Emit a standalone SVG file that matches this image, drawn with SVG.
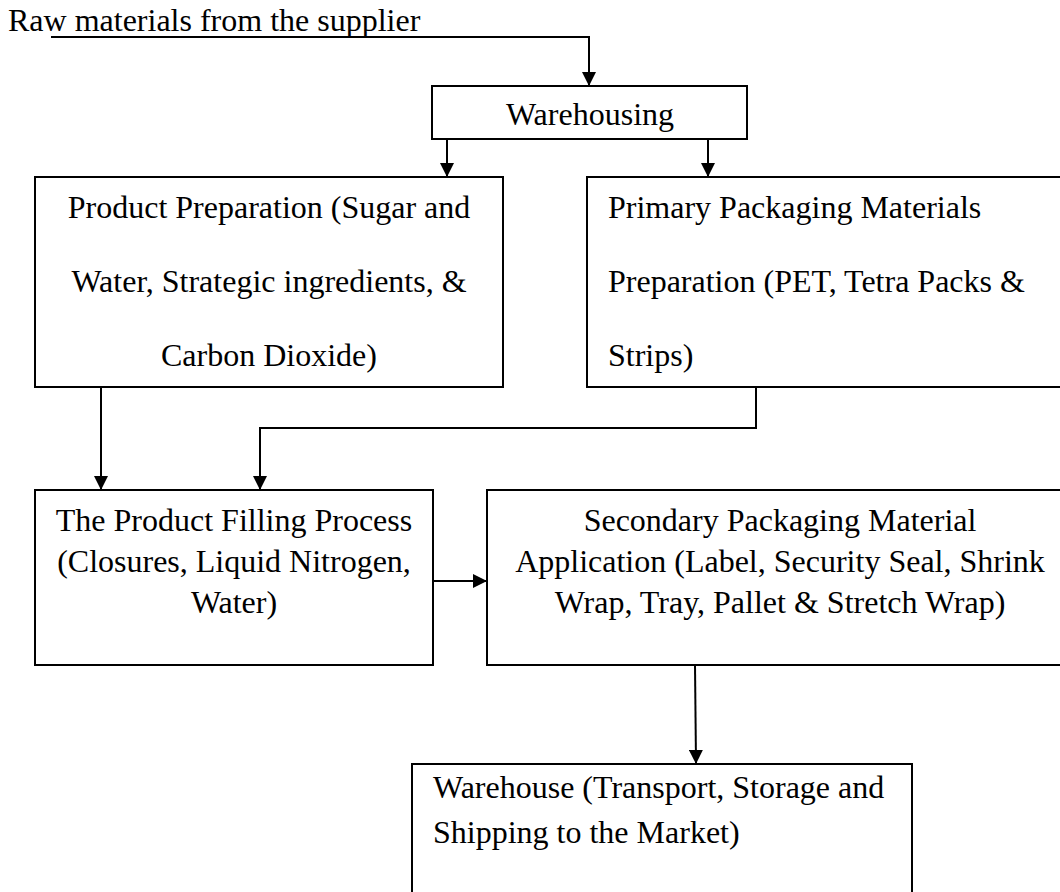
<svg xmlns="http://www.w3.org/2000/svg" width="1060" height="892" viewBox="0 0 1060 892">
<style>
.box{fill:#fff;stroke:#000;stroke-width:2}
.t{font-family:"Liberation Serif","Times New Roman",serif;font-size:32px;fill:#000}
.c{text-anchor:middle}
.ln{fill:none;stroke:#000;stroke-width:2}
</style>
<defs>
<marker id="ah" viewBox="0 0 14 14" markerWidth="14" markerHeight="14" refX="13" refY="7" orient="auto" markerUnits="userSpaceOnUse">
<path d="M0,0 L14,7 L0,14 z" fill="#000"/>
</marker>
</defs>
<rect width="1060" height="892" fill="#fff"/>
<g id="source">
<text class="t" x="8" y="31">Raw materials from the supplier</text>
</g>
<g id="connectors">
<path class="ln" d="M51,37 H589 V85" marker-end="url(#ah)"/>
<path class="ln" d="M447,139 V176" marker-end="url(#ah)"/>
<path class="ln" d="M708,139 V176" marker-end="url(#ah)"/>
<path class="ln" d="M101,387 V489" marker-end="url(#ah)"/>
<path class="ln" d="M756,387 V428 H260 V489" marker-end="url(#ah)"/>
<path class="ln" d="M433,581 H486" stroke-width="3" marker-end="url(#ah)"/>
<path class="ln" d="M695,665 L696,763" marker-end="url(#ah)"/>
</g>
<g id="warehousing">
<rect class="box" x="432" y="86" width="315" height="53"/>
<text class="t c" x="590" y="125">Warehousing</text>
</g>
<g id="product-preparation">
<rect class="box" x="35" y="177" width="468" height="210"/>
<text class="t c" x="269" y="218">Product Preparation (Sugar and</text>
<text class="t c" x="269" y="292">Water, Strategic ingredients, &amp;</text>
<text class="t c" x="269" y="366">Carbon Dioxide)</text>
</g>
<g id="primary-packaging">
<rect class="box" x="587" y="177" width="490" height="210"/>
<text class="t" x="608" y="218">Primary Packaging Materials</text>
<text class="t" x="608" y="292">Preparation (PET, Tetra Packs &amp;</text>
<text class="t" x="608" y="366">Strips)</text>
</g>
<g id="filling">
<rect class="box" x="35" y="490" width="398" height="175"/>
<text class="t c" x="234" y="531">The Product Filling Process</text>
<text class="t c" x="234" y="572">(Closures, Liquid Nitrogen,</text>
<text class="t c" x="234" y="613">Water)</text>
</g>
<g id="secondary-packaging">
<rect class="box" x="487" y="490" width="586" height="175"/>
<text class="t c" x="780" y="531">Secondary Packaging Material</text>
<text class="t c" x="780" y="572">Application (Label, Security Seal, Shrink</text>
<text class="t c" x="780" y="613">Wrap, Tray, Pallet &amp; Stretch Wrap)</text>
</g>
<g id="warehouse">
<rect class="box" x="412" y="764" width="500" height="140"/>
<text class="t" x="433" y="798">Warehouse (Transport, Storage and</text>
<text class="t" x="433" y="843">Shipping to the Market)</text>
</g>
</svg>
